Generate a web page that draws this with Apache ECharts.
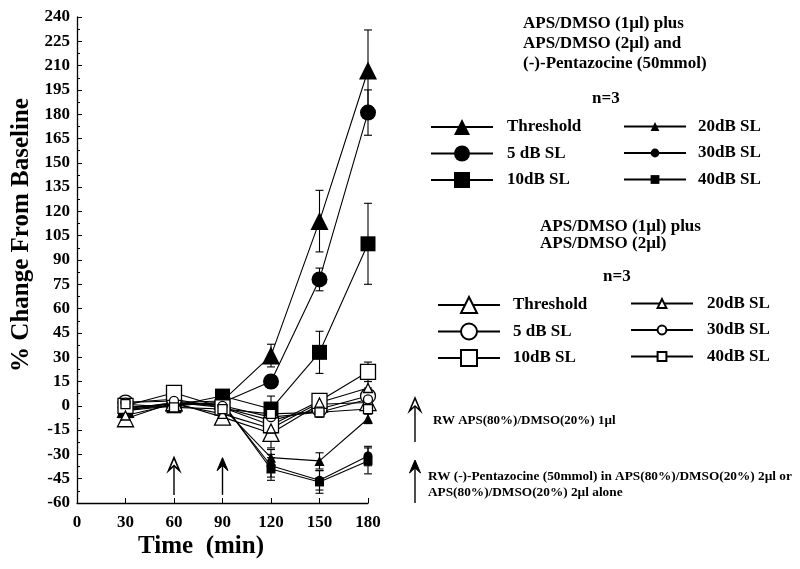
<!DOCTYPE html>
<html><head><meta charset="utf-8">
<script src="https://cdn.jsdelivr.net/npm/echarts@6/dist/echarts.min.js"></script>
<style>html,body{margin:0;padding:0;background:#fff}#c{width:800px;height:569px}</style>
</head><body><div id="c"></div>
<script>
// ---------- data ----------
const times = [30, 60, 90, 120, 150, 180];
const xTicks = [0, 30, 60, 90, 120, 150, 180];

// APS/DMSO (1µl) plus APS/DMSO (2µl) and (-)-Pentazocine (filled symbols)
const pThreshold    = [-2, 2, 3, 31, 114, 207];
const pThresholdErr = [3, 2, 3, 7, 19, 25];
const p5dB          = [-1, 1, 2, 15, 78, 181];
const p5dBErr       = [2, 2, 2, 4, 7, 14];
const p10dB         = [-3, 0, 6, -2, 33, 100];
const p10dBErr      = [3, 2, 3, 8, 13, 25];
const p20dB         = [-3, 2, -1, -32, -34, -8];
const p20dBErr      = [3, 2, 2, 5, 5, 3];
const p30dB         = [-1, 1, 1, -37, -46, -31];
const p30dBErr      = [3, 2, 2, 7, 6, 6];
const p40dB         = [-2, 0, 2, -39, -47, -34];
const p40dBErr      = [3, 2, 2, 7, 7, 8];

// APS/DMSO (1µl) plus APS/DMSO (2µl) (open symbols)
const vThreshold    = [-8, 2, -7, -17, 1, 2];
const vThresholdErr = [3, 2, 2, 9, 3, 4];
const v5dB          = [2, 4, -1, -9, -2, 6];
const v5dBErr       = [2, 2, 2, 6, 3, 5];
const v10dB         = [0, 8, -1, -12, 3, 21];
const v10dBErr      = [2, 2, 2, 9, 3, 6];
const v20dB         = [-6, 1, -5, -14, 2, 11];
const v20dBErr      = [3, 2, 2, 6, 3, 4];
const v30dB         = [2, 3, 0, -7, -4, 4];
const v30dBErr      = [2, 2, 2, 5, 3, 4];
const v40dB         = [1, -1, -2, -5, -4, -2];
const v40dBErr      = [2, 2, 2, 5, 3, 3];

// arrows marking applications (time, start value, tip value)
const arrowTimes = [60, 90];
const arrowOpen = [true, false];
const arrowFrom = -55;
const arrowTo = -32;

const labelNames = {
  pThr: 'Threshold', p5: '5 dB SL', p10: '10dB SL', p20: '20dB SL', p30: '30dB SL', p40: '40dB SL',
  vThr: 'Threshold', v5: '5 dB SL', v10: '10dB SL', v20: '20dB SL', v30: '30dB SL', v40: '40dB SL'
};

// ---------- chart ----------
const FONT = "'Liberation Serif', 'Times New Roman', serif";
const seriesDefs = [
  ['pThr', pThreshold, pThresholdErr, 'triangle', 18, true],
  ['p5', p5dB, p5dBErr, 'circle', 16, true],
  ['p10', p10dB, p10dBErr, 'rect', 15, true],
  ['p20', p20dB, p20dBErr, 'triangle', 10, true],
  ['p30', p30dB, p30dBErr, 'circle', 9, true],
  ['p40', p40dB, p40dBErr, 'rect', 9, true],
  ['vThr', vThreshold, vThresholdErr, 'triangle', 16, false],
  ['v5', v5dB, v5dBErr, 'circle', 15, false],
  ['v10', v10dB, v10dBErr, 'rect', 15, false],
  ['v20', v20dB, v20dBErr, 'triangle', 9, false],
  ['v30', v30dB, v30dBErr, 'circle', 9, false],
  ['v40', v40dB, v40dBErr, 'rect', 9, false]
];

function errRender(params, api) {
  const x = api.value(0), y = api.value(1), e = api.value(2);
  const a = api.coord([x, y - e]), b = api.coord([x, y + e]);
  const w = 4;
  const st = { stroke: '#000', lineWidth: 1.1 };
  return { type: 'group', children: [
    { type: 'line', shape: { x1: a[0], y1: a[1], x2: b[0], y2: b[1] }, style: st },
    { type: 'line', shape: { x1: a[0] - w, y1: a[1], x2: a[0] + w, y2: a[1] }, style: st },
    { type: 'line', shape: { x1: b[0] - w, y1: b[1], x2: b[0] + w, y2: b[1] }, style: st }
  ]};
}

function arrowShape(tx, ty, open) {
  const pts = [[tx, ty], [tx - 5.5, ty + 13], [tx, ty + 8], [tx + 5.5, ty + 13]];
  return { type: 'polygon', shape: { points: pts },
    style: open ? { fill: '#fff', stroke: '#000', lineWidth: 1.6 } : { fill: '#000', stroke: '#000', lineWidth: 1 } };
}

function arrowRender(params, api) {
  const x = api.value(0), y0 = api.value(1), y1 = api.value(2), open = api.value(3) === 1;
  const a = api.coord([x, y0]), b = api.coord([x, y1]);
  return { type: 'group', children: [
    { type: 'line', shape: { x1: a[0], y1: a[1], x2: b[0], y2: b[1] + 8 }, style: { stroke: '#000', lineWidth: 1.4 } },
    arrowShape(b[0], b[1], open)
  ]};
}

const series = [];
seriesDefs.forEach(([name, vals, errs]) => {
  series.push({
    type: 'custom', name: name + '_err', z: 1, silent: true,
    renderItem: errRender,
    data: times.map((t, k) => [t, vals[k], errs[k]])
  });
});
seriesDefs.forEach(([name, vals, errs, sym, size, filled]) => {
  series.push({
    type: 'line', name: name, z: filled ? 3 : 4,
    symbol: sym, symbolSize: size, showAllSymbol: true,
    lineStyle: { color: '#000', width: 1.1 },
    itemStyle: filled ? { color: '#000', borderColor: '#000', borderWidth: 0 }
                      : { color: '#fff', borderColor: '#000', borderWidth: 1.3 },
    data: times.map((t, k) => [t, vals[k]])
  });
});
series.push({
  type: 'custom', name: 'arrows', z: 5, silent: true,
  renderItem: arrowRender,
  data: arrowTimes.map((t, k) => [t, arrowFrom, arrowTo, arrowOpen[k] ? 1 : 0])
});

function mkLegend(names, left, top, iconH, pad) {
  return {
    data: names, orient: 'vertical', left: left, top: top,
    itemWidth: 62, itemHeight: iconH, itemGap: 6.5, selectedMode: false,
    formatter: n => labelNames[n],
    textStyle: { fontFamily: FONT, fontWeight: 'bold', fontSize: 17, color: '#000', lineHeight: 20, padding: [0, 0, 0, pad] }
  };
}

const txt = { fontFamily: FONT, fontWeight: 'bold', fill: '#000' };

const option = {
  animation: false,
  backgroundColor: '#fff',
  grid: { left: 77, top: 17, width: 291, height: 486, containLabel: false },
  xAxis: {
    type: 'value', min: xTicks[0], max: xTicks[xTicks.length - 1], interval: 30,
    axisLine: { onZero: false, lineStyle: { color: '#000', width: 1.3 } },
    axisTick: { inside: true, length: 5, lineStyle: { color: '#000' } },
    axisLabel: { fontFamily: FONT, fontWeight: 'bold', fontSize: 17, color: '#000', margin: 11 },
    splitLine: { show: false }
  },
  yAxis: {
    type: 'value', min: -60, max: 240, interval: 15,
    axisLine: { show: true, onZero: false, lineStyle: { color: '#000', width: 1.3 } },
    axisTick: { show: true, inside: true, length: 5, lineStyle: { color: '#000' } },
    minorTick: { show: true, splitNumber: 2, length: 3, lineStyle: { color: '#000' } },
    axisLabel: { fontFamily: FONT, fontWeight: 'bold', fontSize: 17, color: '#000', margin: 7 },
    splitLine: { show: false }
  },
  legend: [
    mkLegend(['pThr', 'p5', 'p10'], 425, 112, 20, 9),
    mkLegend(['p20', 'p30', 'p40'], 618, 111.5, 11, 7),
    mkLegend(['vThr', 'v5', 'v10'], 432, 290, 20, 8),
    mkLegend(['v20', 'v30', 'v40'], 625, 288.5, 11, 9)
  ],
  graphic: [
    { type: 'text', x: 22, y: 235, rotation: Math.PI / 2,
      style: Object.assign({ text: '% Change From Baseline', fontSize: 25, align: 'center', verticalAlign: 'middle' }, txt) },
    { type: 'text', x: 201, y: 547,
      style: Object.assign({ text: 'Time  (min)', fontSize: 25, align: 'center', verticalAlign: 'middle' }, txt) },
    { type: 'text', left: 523, top: 14, style: Object.assign({ text: 'APS/DMSO (1µl) plus\nAPS/DMSO (2µl) and\n(-)-Pentazocine (50mmol)', fontSize: 17, lineHeight: 20 }, txt) },
    { type: 'text', left: 592, top: 90, style: Object.assign({ text: 'n=3', fontSize: 17 }, txt) },
    { type: 'text', left: 540, top: 218, style: Object.assign({ text: 'APS/DMSO (1µl) plus\nAPS/DMSO (2µl)', fontSize: 17, lineHeight: 17 }, txt) },
    { type: 'text', left: 603, top: 268, style: Object.assign({ text: 'n=3', fontSize: 17 }, txt) },
    { type: 'line', shape: { x1: 415, y1: 442, x2: 415, y2: 406 }, style: { stroke: '#000', lineWidth: 1.4 } },
    arrowShape(415, 398, true),
    { type: 'text', left: 433, top: 414, style: Object.assign({ text: 'RW APS(80%)/DMSO(20%) 1µl', fontSize: 13 }, txt) },
    { type: 'line', shape: { x1: 415, y1: 503, x2: 415, y2: 468 }, style: { stroke: '#000', lineWidth: 1.4 } },
    arrowShape(415, 460, false),
    { type: 'text', left: 428, top: 469, style: Object.assign({ text: 'RW (-)-Pentazocine (50mmol) in APS(80%)/DMSO(20%) 2µl or\nAPS(80%)/DMSO(20%) 2µl alone', fontSize: 13.3, lineHeight: 16 }, txt) }
  ],
  series: series
};

const chart = echarts.init(document.getElementById('c'), null, { renderer: 'canvas' });
chart.setOption(option);
</script>
</body></html>
